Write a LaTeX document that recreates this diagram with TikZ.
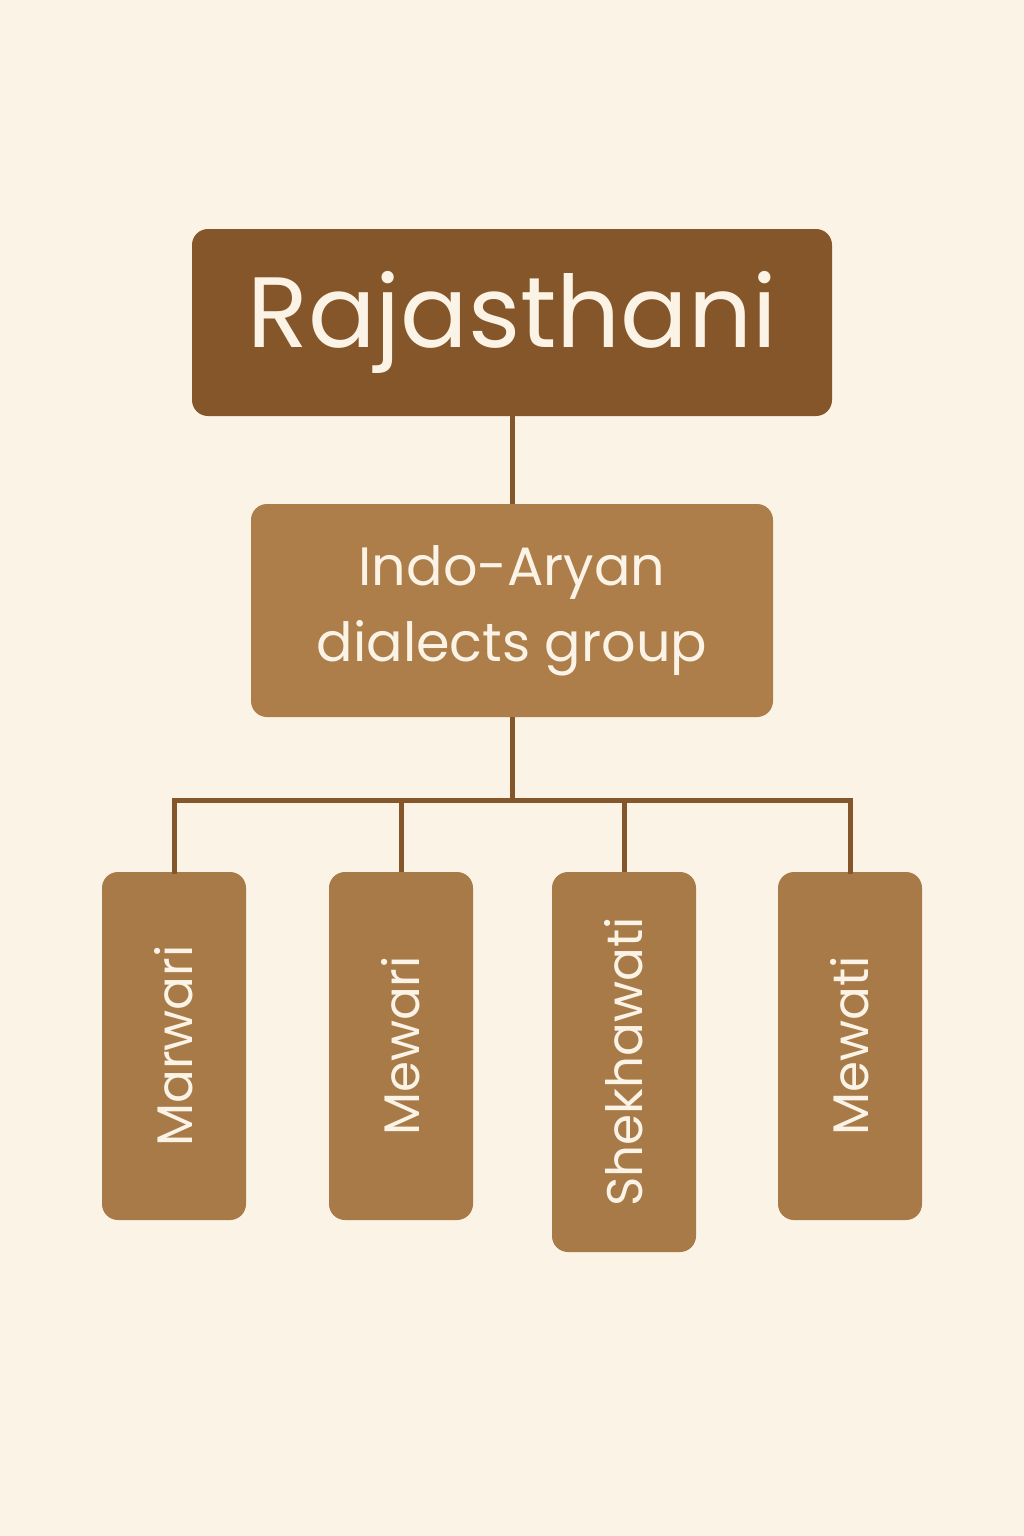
\documentclass[tikz,border=0pt]{standalone}
\usepackage{fontspec}
\setmainfont{Poppins}
\definecolor{bg}{HTML}{FAF3E6}
\definecolor{dark}{HTML}{85562A}
\definecolor{mid}{HTML}{AD7D4A}
\definecolor{leaf}{HTML}{A87A48}
\tikzset{
  box/.style={rounded corners=16pt,inner sep=0pt,text=bg,align=center},
  conn/.style={draw=dark,line width=5pt},
}
\begin{document}
\begin{tikzpicture}[x=1pt,y=-1pt]
\fill[bg] (0,0) rectangle (1024,1536);
\useasboundingbox (0,0) rectangle (1024,1536);
\node[box,fill=dark,minimum width=640pt,minimum height=187pt,font=\fontsize{100}{110}\selectfont] (root) at (512,322.5) {Rajasthani};
\node[box,fill=mid,minimum width=522pt,minimum height=213pt,font=\fontsize{54}{76}\selectfont] (grp) at (512,610.5) {Indo-Aryan\\dialects group};
\coordinate (j) at (512,800);
\node[box,fill=leaf,minimum width=144pt,minimum height=348pt] (m1) at (174,1046) {};
\node[box,fill=leaf,minimum width=144pt,minimum height=348pt] (m2) at (401,1046) {};
\node[box,fill=leaf,minimum width=144pt,minimum height=380pt] (m3) at (624,1062) {};
\node[box,fill=leaf,minimum width=144pt,minimum height=348pt] (m4) at (850,1046) {};
\foreach \n/\t in {m1/Marwari,m2/Mewari,m3/Shekhawati,m4/Mewati}
  \node[rotate=90,text=bg,font=\fontsize{50}{56}\selectfont] at (\n) {\t};
\draw[conn] (root.south) -- (grp.north);
\draw[conn] (grp.south) -- (j);
\draw[conn,line cap=rect] (m1.north) |- (j) -| (m4.north);
\draw[conn] (m2.north) -- (m2.north |- j);
\draw[conn] (m3.north) -- (m3.north |- j);
\end{tikzpicture}
\end{document}
